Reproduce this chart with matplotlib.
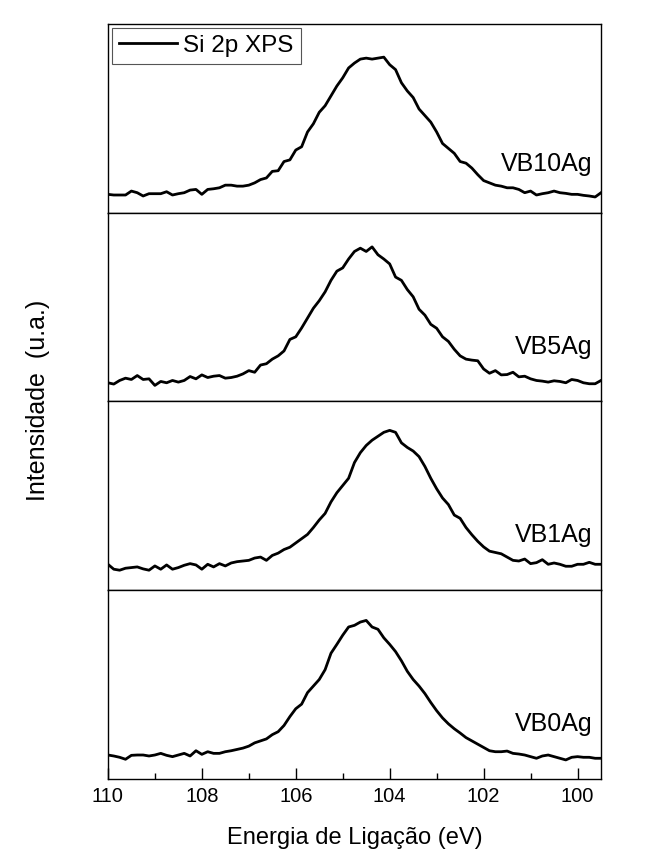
import numpy as np
import matplotlib.pyplot as plt
from matplotlib.ticker import MultipleLocator

plt.rcParams['font.family'] = ['Liberation Sans', 'DejaVu Sans']

# binding energy grid (eV), 0.125 eV steps from 110 down to 99.5
energy = np.arange(110.0, 99.49, -0.125)

# Si 2p intensities (arbitrary units), one array per sample
vb10ag = [56, 54, 54, 54, 66, 61, 51, 58, 58, 58, 64, 54, 58, 61, 69, 71, 56, 71,
          73, 76, 84, 84, 81, 81, 84, 91, 101, 106, 126, 128, 156, 161, 191, 201,
          246, 271, 306, 326, 356, 386, 411, 441, 456,
          468, 471, 468, 471, 474, 451, 436, 396, 371, 351, 316, 296, 276, 246,
          211, 196, 181, 156, 151, 136, 116, 98, 91, 84, 81, 76, 76, 71, 61, 66,
          54, 58, 61, 66, 61, 59, 56, 56, 53, 51, 48, 61]
vb5ag = [57, 53, 64, 71, 67, 79, 67, 69, 49, 61, 57, 64, 59, 64, 76, 69, 81, 73,
         77, 79, 71, 73, 77, 84, 94, 89, 111, 115, 129, 139, 154, 189, 197, 224,
         254, 284, 307, 334, 369, 397, 407, 434, 457,
         467, 457, 471, 447, 434, 419, 379, 369, 341, 319, 281, 263, 235, 223,
         197, 183, 159, 139, 129, 126, 124, 99, 86, 94, 81, 82, 89, 75, 77, 69,
         64, 62, 59, 63, 61, 57, 67, 64, 57, 54, 54, 64]
vb1ag = [79, 64, 61, 67, 69, 71, 65, 61, 74, 64, 77, 64, 69, 76, 81, 77, 64, 79,
         71, 81, 74, 83, 87, 89, 91, 98, 101, 91, 106, 113, 124, 131, 144, 157,
         170, 191, 214, 234, 269, 297, 319, 341, 389,
         419, 441, 457, 469, 481, 487, 481, 449, 435, 424, 407, 377, 341, 309,
         281, 261, 229, 219, 191, 169, 149, 132, 119, 115, 111, 101, 91, 89, 95,
         81, 84, 93, 79, 83, 79, 73, 73, 79, 79, 85, 79, 79]
vb0ag = [73, 70, 66, 60, 72, 73, 73, 70, 73, 78, 72, 68, 73, 78, 70, 86, 75, 83,
         78, 78, 83, 86, 90, 94, 100, 110, 116, 122, 135, 144, 163, 190, 214, 228,
         263, 283, 303, 333, 383, 410, 438, 463, 468,
         478, 483, 463, 456, 430, 410, 388, 360, 328, 303, 283, 260, 233, 208,
         186, 168, 153, 140, 126, 116, 106, 96, 86, 83, 83, 85, 78, 76, 73, 68,
         63, 70, 73, 68, 63, 58, 66, 68, 66, 66, 63, 63]

samples = ["VB10Ag", "VB5Ag", "VB1Ag", "VB0Ag"]
spectra = [vb10ag, vb5ag, vb1ag, vb0ag]
label_y = [0.26, 0.29, 0.29, 0.29]

fig = plt.figure(figsize=(6.54, 8.66), dpi=100)
left, width = 0.165, 0.754
top, bottom = 0.9723, 0.1005
h = (top - bottom) / 4

axes = []
for i, (name, y) in enumerate(zip(samples, spectra)):
    ax = fig.add_axes([left, top - (i + 1) * h, width, h])
    ax.plot(energy, y, color='black', lw=2.0, label='Si 2p XPS')
    ax.set_xlim(110, 99.5)
    ax.set_ylim(0, 575)
    ax.set_yticks([])
    ax.text(0.982, label_y[i], name, transform=ax.transAxes, ha='right',
            va='center', fontsize=18)
    for s in ax.spines.values():
        s.set_linewidth(1.0)
    if i < 3:
        ax.tick_params(axis='x', which='both', bottom=False, labelbottom=False)
    else:
        ax.xaxis.set_major_locator(MultipleLocator(2))
        ax.xaxis.set_minor_locator(MultipleLocator(1))
        ax.tick_params(axis='x', which='major', direction='in', length=8,
                       width=1, labelsize=14.5, pad=6)
        ax.tick_params(axis='x', which='minor', direction='in', length=4,
                       width=1)
        ax.set_xlabel('Energia de Ligação (eV)', fontsize=17, labelpad=15)
    axes.append(ax)

leg = axes[0].legend(loc='upper left', fontsize=17.5, fancybox=False,
                     edgecolor='#555555', handlelength=2.4, handletextpad=0.25,
                     borderpad=0.3, borderaxespad=0.15, framealpha=1)
leg.get_frame().set_linewidth(0.8)

fig.text(0.058, 0.538, 'Intensidade  (u.a.)', rotation=90, ha='center',
         va='center', fontsize=18)

fig.savefig('out.png', dpi=100)
